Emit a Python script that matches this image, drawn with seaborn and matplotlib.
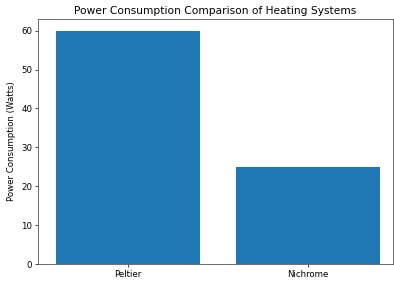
import matplotlib
matplotlib.use("Agg")
import matplotlib.pyplot as plt
import seaborn as sns
import pandas as pd

# datos
sistemas = ["Peltier", "Nichrome"]
consumo = [60, 25]

df = pd.DataFrame({"Sistema": sistemas, "Consumo": consumo})

fig = plt.figure(figsize=(3.94, 2.81), dpi=100)
ax = fig.add_axes([38 / 394, 17 / 281, 355 / 394, 245 / 281])

sns.barplot(data=df, x="Sistema", y="Consumo", color="#1f77b4",
            saturation=1, width=0.8, ax=ax)
ax.set_xlim(-0.5, 1.47)
ax.set_ylim(0, 63)

ax.set_title("Power Consumption Comparison of Heating Systems", fontsize=7.7, pad=3.5)
ax.set_xlabel("")
ax.set_ylabel("Power Consumption (Watts)", fontsize=6.2)
ax.tick_params(labelsize=6.2, width=0.5, length=2.2, pad=2)
for s in ax.spines.values():
    s.set_linewidth(0.6)
    s.set_color("#555555")

fig.savefig("out.png", dpi=100)
